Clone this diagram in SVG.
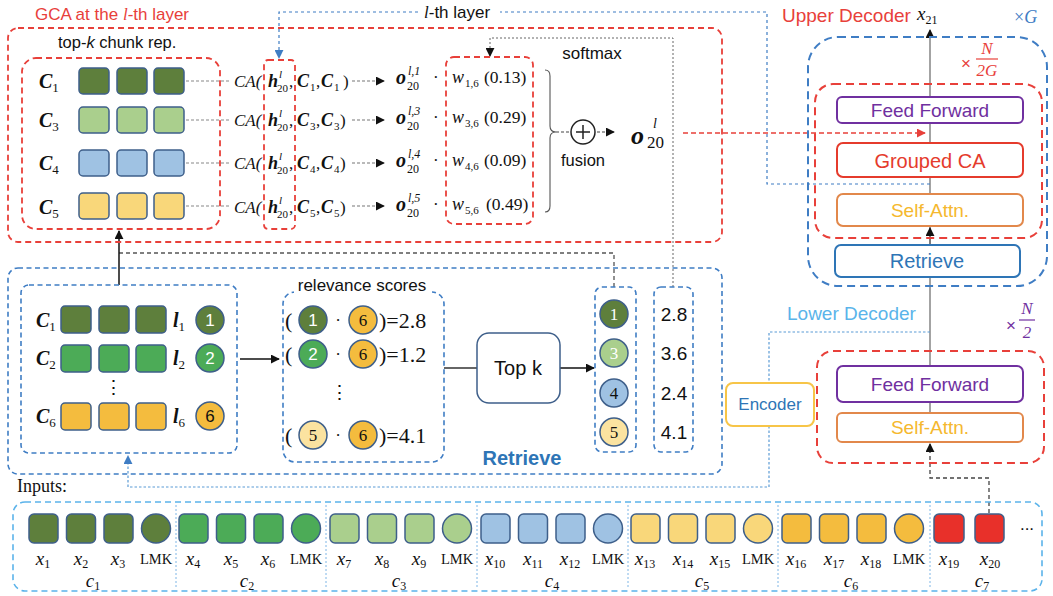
<svg xmlns="http://www.w3.org/2000/svg" width="1053" height="596" viewBox="0 0 1053 596">
<defs>
<style>
.rd{fill:none;stroke:#E8403A;stroke-width:1.8;stroke-dasharray:6 4}
.rdb{fill:none;stroke:#E8403A;stroke-width:2;stroke-dasharray:8 5}
.bd{fill:none;stroke:#3F7DC4;stroke-width:1.6;stroke-dasharray:5 3.5}
.bdb{fill:none;stroke:#3F7DC4;stroke-width:2;stroke-dasharray:8 5}
.lbd{fill:none;stroke:#5BB3EA;stroke-width:1.6;stroke-dasharray:6 4}
.sq{stroke:#3E5F8A;stroke-width:1.5}
.g1{fill:#5E7F3C}.g2{fill:#4CAB57}.g3{fill:#AACF8D}.b4{fill:#9FC2E3}.y5{fill:#F9D77A}.y6{fill:#F4BC3E}.r7{fill:#E8302A}.y5l{fill:#FBE3A0}
.sans{font-family:"Liberation Sans",Arial,sans-serif}
.ser{font-family:"Liberation Serif","Times New Roman",serif}
.it{font-style:italic}
.bf{font-weight:bold}
.m{font-family:"Liberation Serif","Times New Roman",serif;font-size:17px;fill:#111}
.mi{font-family:"Liberation Serif","Times New Roman",serif;font-size:17px;font-style:italic;fill:#111}
.mb{font-family:"Liberation Serif","Times New Roman",serif;font-size:18px;font-style:italic;font-weight:bold;fill:#111}
.s11{font-family:"Liberation Serif","Times New Roman",serif;font-size:11px;fill:#111}
.s11i{font-family:"Liberation Serif","Times New Roman",serif;font-size:11px;font-style:italic;fill:#111}
.gd{fill:none;stroke:#888;stroke-width:1.1;stroke-dasharray:3 2}
.da{fill:none;stroke:#777;stroke-width:1.1;stroke-dasharray:3 2}
.box{fill:#fff;stroke-width:2}
.big{font-size:20px}
.sub{font-style:normal;font-weight:normal;font-size:13px}
.xs{font-style:normal;font-size:12px}
</style>
<marker id="ak" viewBox="0 0 10 10" refX="9" refY="5" markerWidth="9" markerHeight="9" orient="auto" markerUnits="userSpaceOnUse"><path d="M0,0 L10,5 L0,10 z" fill="#111"/></marker>
<marker id="ab" viewBox="0 0 10 10" refX="9" refY="5" markerWidth="9" markerHeight="9" orient="auto" markerUnits="userSpaceOnUse"><path d="M0,0 L10,5 L0,10 z" fill="#3F7DC4"/></marker>
<marker id="ar" viewBox="0 0 10 10" refX="9" refY="5" markerWidth="9" markerHeight="9" orient="auto" markerUnits="userSpaceOnUse"><path d="M0,0 L10,5 L0,10 z" fill="#E8403A"/></marker>
</defs>
<rect width="1053" height="596" fill="#fff"/>

<g id="connectors">
<path d="M930,366 V30" stroke="#666" stroke-width="1.2" fill="none" marker-end="url(#ak)"/>
<path d="M930,245 V228" stroke="#666" stroke-width="1.2" fill="none" marker-end="url(#ak)"/>
<path d="M930,413 V402" stroke="#666" stroke-width="1.2" fill="none"/>
<path d="M989,513 V478 H930 V444" stroke="#444" stroke-width="1.3" stroke-dasharray="4 3" fill="none" marker-end="url(#ak)"/>
<path d="M930,184 H767 V12 H500" stroke="#3F7DC4" stroke-width="1.2" stroke-dasharray="3 3" fill="none"/>
<path d="M418,12 H279 V58" stroke="#3F7DC4" stroke-width="1.2" stroke-dasharray="3 3" fill="none" marker-end="url(#ab)"/>
<path d="M673,287 V38 H490 V56" stroke="#666" stroke-width="1" stroke-dasharray="2 2" fill="none" marker-end="url(#ak)"/>
<path d="M614,287 V253 H119" stroke="#555" stroke-width="1.3" stroke-dasharray="4 3" fill="none"/>
<path d="M119,285 V231" stroke="#111" stroke-width="1.5" fill="none" marker-end="url(#ak)"/>
<path class="gd" d="M186,81 H229 M186,120 H229 M186,163 H229 M186,206 H229"/>
<path class="da" d="M352,81 H384" marker-end="url(#ak)"/>
<path class="da" d="M352,120 H384" marker-end="url(#ak)"/>
<path class="da" d="M352,163 H384" marker-end="url(#ak)"/>
<path class="da" d="M352,206 H384" marker-end="url(#ak)"/>
<path d="M545,70 Q550,70 550,76 V126 Q550,132 556,132 Q550,132 550,138 V206 Q550,212 545,212" stroke="#555" stroke-width="1.1" fill="none"/>
<path d="M556,132 H570" stroke="#444" stroke-width="1.2" stroke-dasharray="3 2" fill="none"/>
<path d="M597,132 H614" stroke="#444" stroke-width="1.2" stroke-dasharray="3 2" fill="none" marker-end="url(#ak)"/>
<path d="M683,133 H925" stroke="#E8403A" stroke-width="1.4" stroke-dasharray="5 3" fill="none" marker-end="url(#ar)"/>
<path d="M240,359 H279" stroke="#111" stroke-width="1.3" fill="none" marker-end="url(#ak)"/>
<path d="M444,368 H477" stroke="#333" stroke-width="1.3" fill="none"/>
<path d="M560,368 H594" stroke="#111" stroke-width="1.3" fill="none" marker-end="url(#ak)"/>
<path d="M930,332 H769 V383" stroke="#5B9BD5" stroke-width="1.2" stroke-dasharray="2.5 2" fill="none"/>
<path d="M769,426 V487 H128 V456" stroke="#5B9BD5" stroke-width="1.2" stroke-dasharray="2.5 2" fill="none" marker-end="url(#ab)"/>
</g>

<g id="gca">
<text x="35" y="20" class="sans" font-size="17" fill="#E8403A">GCA at the <tspan class="ser it">l</tspan>-th layer</text>
<rect class="rd" x="8" y="28" width="714" height="214" rx="10"/>
<text x="424" y="18" class="sans" font-size="17" fill="#111"><tspan class="ser it">l</tspan>-th layer</text>
</g>

<g id="topk-chunks">
<text x="58" y="48" class="sans" font-size="16.5" fill="#111">top-<tspan font-style="italic">k</tspan> chunk rep.</text>
<rect class="rd" x="22" y="58" width="198" height="171" rx="14"/>
<text x="39" y="88" class="mb big">C<tspan class="sub" dy="4">1</tspan></text>
<text x="39" y="127" class="mb big">C<tspan class="sub" dy="4">3</tspan></text>
<text x="39" y="170" class="mb big">C<tspan class="sub" dy="4">4</tspan></text>
<text x="39" y="214" class="mb big">C<tspan class="sub" dy="4">5</tspan></text>
<rect class="sq g1" x="79" y="68" width="30" height="26" rx="4"/><rect class="sq g1" x="117" y="68" width="30" height="26" rx="4"/><rect class="sq g1" x="154" y="68" width="30" height="26" rx="4"/>
<rect class="sq g3" x="79" y="107" width="30" height="26" rx="4"/><rect class="sq g3" x="117" y="107" width="30" height="26" rx="4"/><rect class="sq g3" x="154" y="107" width="30" height="26" rx="4"/>
<rect class="sq b4" x="79" y="150" width="30" height="26" rx="4"/><rect class="sq b4" x="117" y="150" width="30" height="26" rx="4"/><rect class="sq b4" x="154" y="150" width="30" height="26" rx="4"/>
<rect class="sq y5" x="79" y="193" width="30" height="26" rx="4"/><rect class="sq y5" x="117" y="193" width="30" height="26" rx="4"/><rect class="sq y5" x="154" y="193" width="30" height="26" rx="4"/>
</g>

<g id="ca-rows">
<rect class="rd" x="264" y="60" width="31" height="169" rx="4"/>
<g>
<text x="234" y="87" class="mi">CA(</text><text x="268" y="87" class="mb">h</text><text x="279" y="78" class="s11i">l</text><text x="277" y="92" class="s11">20</text><text x="289" y="87" class="m">,</text>
<text x="297" y="87" class="mb">C</text><text x="310" y="91" class="s11">1</text><text x="316" y="87" class="m">,</text><text x="321" y="87" class="mb">C</text><text x="334" y="91" class="s11">1</text><text x="343" y="87" class="m">)</text>
</g>
<g>
<text x="234" y="126" class="mi">CA(</text><text x="268" y="126" class="mb">h</text><text x="279" y="117" class="s11i">l</text><text x="277" y="131" class="s11">20</text><text x="289" y="126" class="m">,</text>
<text x="297" y="126" class="mb">C</text><text x="310" y="130" class="s11">3</text><text x="316" y="126" class="m">,</text><text x="321" y="126" class="mb">C</text><text x="334" y="130" class="s11">3</text><text x="340" y="126" class="m">)</text>
</g>
<g>
<text x="234" y="169" class="mi">CA(</text><text x="268" y="169" class="mb">h</text><text x="279" y="160" class="s11i">l</text><text x="277" y="174" class="s11">20</text><text x="289" y="169" class="m">,</text>
<text x="297" y="169" class="mb">C</text><text x="310" y="173" class="s11">4</text><text x="316" y="169" class="m">,</text><text x="321" y="169" class="mb">C</text><text x="334" y="173" class="s11">4</text><text x="340" y="169" class="m">)</text>
</g>
<g>
<text x="234" y="213" class="mi">CA(</text><text x="268" y="213" class="mb">h</text><text x="279" y="204" class="s11i">l</text><text x="277" y="218" class="s11">20</text><text x="289" y="213" class="m">,</text>
<text x="297" y="213" class="mb">C</text><text x="310" y="217" class="s11">5</text><text x="316" y="213" class="m">,</text><text x="321" y="213" class="mb">C</text><text x="334" y="217" class="s11">5</text><text x="340" y="213" class="m">)</text>
</g>
</g>

<g id="outputs">
<text x="396" y="84" class="mb big">o</text><text x="408" y="75" class="s11i" style="font-size:12px">l,1</text><text x="407" y="90" class="s11" style="font-size:12px">20</text><text x="433" y="83" class="m">·</text>
<text x="396" y="124" class="mb big">o</text><text x="408" y="115" class="s11i" style="font-size:12px">l,3</text><text x="407" y="130" class="s11" style="font-size:12px">20</text><text x="433" y="123" class="m">·</text>
<text x="396" y="167" class="mb big">o</text><text x="408" y="158" class="s11i" style="font-size:12px">l,4</text><text x="407" y="173" class="s11" style="font-size:12px">20</text><text x="433" y="166" class="m">·</text>
<text x="396" y="211" class="mb big">o</text><text x="408" y="202" class="s11i" style="font-size:12px">l,5</text><text x="407" y="217" class="s11" style="font-size:12px">20</text><text x="433" y="210" class="m">·</text>
</g>

<g id="weights">
<rect class="rd" x="446" y="57" width="87" height="167" rx="8"/>
<text x="452" y="83" class="mi" style="font-size:18px">w</text><text x="465" y="87" class="s11">1,6</text><text x="484" y="83" class="m" style="font-size:17.5px">(0.13)</text>
<text x="452" y="123" class="mi" style="font-size:18px">w</text><text x="465" y="127" class="s11">3,6</text><text x="484" y="123" class="m" style="font-size:17.5px">(0.29)</text>
<text x="452" y="166" class="mi" style="font-size:18px">w</text><text x="465" y="170" class="s11">4,6</text><text x="484" y="166" class="m" style="font-size:17.5px">(0.09)</text>
<text x="452" y="210" class="mi" style="font-size:18px">w</text><text x="465" y="214" class="s11">5,6</text><text x="486" y="210" class="m" style="font-size:17.5px">(0.49)</text>
<text x="592" y="59" class="sans" font-size="17" fill="#111" text-anchor="middle">softmax</text>
</g>

<g id="fusion">
<circle cx="583" cy="132" r="12" fill="#fff" stroke="#222" stroke-width="1.5"/>
<path d="M576,132 H590 M583,125 V139" stroke="#222" stroke-width="1.5"/>
<text x="583" y="166" class="sans" font-size="16.5" fill="#111" text-anchor="middle">fusion</text>
<text x="631" y="144" class="mb" style="font-size:26px">o</text><text x="653" y="128" class="s11i" style="font-size:14px">l</text><text x="647" y="148" class="m" style="font-size:17px">20</text>
</g>

<g id="retrieve">
<rect class="bd" x="8" y="268" width="714" height="206" rx="10"/>
<text x="522" y="465" class="sans bf" font-size="20" fill="#2E75B6" text-anchor="middle">Retrieve</text>
</g>

<g id="chunks">
<rect class="bd" x="21" y="285" width="216" height="168" rx="8"/>
<text x="36" y="327" class="mb big">C<tspan class="sub" dy="4">1</tspan></text>
<text x="36" y="365" class="mb big">C<tspan class="sub" dy="4">2</tspan></text>
<text x="36" y="423" class="mb big">C<tspan class="sub" dy="4">6</tspan></text>
<rect class="sq g1" x="61" y="306" width="30" height="27" rx="4"/><rect class="sq g1" x="99" y="306" width="30" height="27" rx="4"/><rect class="sq g1" x="136" y="306" width="30" height="27" rx="4"/>
<rect class="sq g2" x="61" y="345" width="30" height="27" rx="4"/><rect class="sq g2" x="99" y="345" width="30" height="27" rx="4"/><rect class="sq g2" x="136" y="345" width="30" height="27" rx="4"/>
<rect class="sq y6" x="61" y="403" width="30" height="27" rx="4"/><rect class="sq y6" x="99" y="403" width="30" height="27" rx="4"/><rect class="sq y6" x="136" y="403" width="30" height="27" rx="4"/>
<text x="113" y="394" class="m" style="font-size:19px" text-anchor="middle">⋮</text>
<text x="173" y="327" class="mb big">l<tspan class="sub" dy="4">1</tspan></text>
<text x="173" y="365" class="mb big">l<tspan class="sub" dy="4">2</tspan></text>
<text x="173" y="423" class="mb big">l<tspan class="sub" dy="4">6</tspan></text>
<circle class="sq g1" cx="210" cy="320" r="14"/><text x="210" y="326" class="sans" font-size="17" fill="#fff" text-anchor="middle">1</text>
<circle class="sq g2" cx="210" cy="358" r="14"/><text x="210" y="364" class="sans" font-size="17" fill="#fff" text-anchor="middle">2</text>
<circle class="sq y6" cx="210" cy="416" r="14"/><text x="210" y="422" class="sans" font-size="17" fill="#111" text-anchor="middle">6</text>
</g>

<g id="relevance">
<rect class="bd" x="283" y="292" width="161" height="170" rx="12"/>
<rect x="294" y="275" width="138" height="19" fill="#fff"/>
<text x="362" y="291" class="sans" font-size="17" fill="#111" text-anchor="middle">relevance scores</text>
<text x="285" y="328" class="m" style="font-size:22px">(</text><circle class="sq g1" cx="313" cy="320" r="14"/><text x="313" y="326" class="sans" font-size="17" fill="#fff" text-anchor="middle">1</text><text x="338" y="326" class="m" text-anchor="middle">·</text><circle class="sq y6" cx="363" cy="320" r="14"/><text x="363" y="326" class="ser" font-size="17" fill="#111" text-anchor="middle">6</text><text x="379" y="328" class="m" style="font-size:22px">)=2.8</text>
<text x="285" y="362" class="m" style="font-size:22px">(</text><circle class="sq g2" cx="313" cy="354" r="14"/><text x="313" y="360" class="sans" font-size="17" fill="#fff" text-anchor="middle">2</text><text x="338" y="360" class="m" text-anchor="middle">·</text><circle class="sq y6" cx="363" cy="354" r="14"/><text x="363" y="360" class="ser" font-size="17" fill="#111" text-anchor="middle">6</text><text x="379" y="362" class="m" style="font-size:22px">)=1.2</text>
<text x="339" y="399" class="m" style="font-size:19px" text-anchor="middle">⋮</text>
<text x="285" y="443" class="m" style="font-size:22px">(</text><circle class="sq y5l" cx="313" cy="435" r="14"/><text x="313" y="441" class="ser" font-size="17" fill="#111" text-anchor="middle">5</text><text x="338" y="441" class="m" text-anchor="middle">·</text><circle class="sq y6" cx="363" cy="435" r="14"/><text x="363" y="441" class="ser" font-size="17" fill="#111" text-anchor="middle">6</text><text x="379" y="443" class="m" style="font-size:22px">)=4.1</text>
</g>

<g id="topk">
<rect x="477" y="333" width="83" height="70" rx="12" fill="#fff" stroke="#3E5F8A" stroke-width="1.5"/>
<text x="518" y="375" class="sans" font-size="20" fill="#111" text-anchor="middle">Top k</text>
</g>

<g id="selected">
<rect class="bd" x="595" y="287" width="41" height="165" rx="7"/>
<circle class="sq g1" cx="614" cy="314" r="14"/><text x="614" y="320" class="ser" font-size="17" fill="#fff" text-anchor="middle">1</text>
<circle class="sq g3" cx="614" cy="353" r="14"/><text x="614" y="359" class="ser" font-size="17" fill="#fff" text-anchor="middle">3</text>
<circle class="sq b4" cx="614" cy="393" r="14"/><text x="614" y="399" class="ser" font-size="17" fill="#111" text-anchor="middle">4</text>
<circle class="sq y5l" cx="614" cy="432" r="14"/><text x="614" y="438" class="ser" font-size="17" fill="#111" text-anchor="middle">5</text>
</g>

<g id="scores">
<rect class="bd" x="654" y="287" width="39" height="165" rx="7"/>
<text x="674" y="321" class="sans" font-size="19" fill="#111" text-anchor="middle">2.8</text>
<text x="674" y="360" class="sans" font-size="19" fill="#111" text-anchor="middle">3.6</text>
<text x="674" y="400" class="sans" font-size="19" fill="#111" text-anchor="middle">2.4</text>
<text x="674" y="439" class="sans" font-size="19" fill="#111" text-anchor="middle">4.1</text>
</g>

<g id="upper-decoder">
<text x="782" y="22" class="sans" font-size="19" fill="#E8403A">Upper Decoder</text>
<text x="917" y="20" class="mi" style="font-size:19px">x<tspan font-size="12" font-style="normal" dy="4">21</tspan></text>
<text x="1014" y="23" class="ser" font-size="18" fill="#3F7DC4">×<tspan font-style="italic">G</tspan></text>
<rect class="bdb" x="808" y="37" width="239" height="249" rx="30"/>
<text x="961" y="69" class="sans" font-size="17" fill="#E8403A">×</text>
<text x="987" y="54" class="ser it" font-size="17" fill="#E8403A" text-anchor="middle">N</text>
<line x1="976" y1="59" x2="998" y2="59" stroke="#E8403A" stroke-width="1.2"/>
<text x="987" y="76" class="ser it" font-size="17" fill="#E8403A" text-anchor="middle">2G</text>
<rect class="rdb" x="815" y="84" width="227" height="154" rx="18"/>
<rect class="box" x="837" y="97" width="186" height="26" rx="5" stroke="#7030A0"/>
<text x="930" y="117" class="sans" font-size="19" fill="#7030A0" text-anchor="middle">Feed Forward</text>
<rect class="box" x="837" y="143" width="186" height="34" rx="6" stroke="#E53B2C"/>
<text x="930" y="168" class="sans" font-size="20" fill="#E53B2C" text-anchor="middle">Grouped CA</text>
<rect class="box" x="837" y="194" width="186" height="32" rx="6" stroke="#E2884B"/>
<text x="930" y="217" class="sans" font-size="19" fill="#F5B82E" text-anchor="middle">Self-Attn.</text>
<rect class="box" x="835" y="245" width="185" height="32" rx="6" stroke="#2E75B6"/>
<text x="927" y="268" class="sans" font-size="20" fill="#2E75B6" text-anchor="middle">Retrieve</text>
</g>

<g id="lower-decoder">
<text x="787" y="320" class="sans" font-size="19" fill="#5AB4EA">Lower Decoder</text>
<text x="1006" y="331" class="sans" font-size="17" fill="#7030A0">×</text>
<text x="1027" y="314" class="ser it" font-size="17" fill="#7030A0" text-anchor="middle">N</text>
<line x1="1019" y1="320" x2="1035" y2="320" stroke="#7030A0" stroke-width="1.2"/>
<text x="1027" y="338" class="ser it" font-size="17" fill="#7030A0" text-anchor="middle">2</text>
<rect class="rdb" x="817" y="351" width="227" height="112" rx="16"/>
<rect class="box" x="837" y="366" width="186" height="36" rx="6" stroke="#7030A0"/>
<text x="930" y="391" class="sans" font-size="19" fill="#7030A0" text-anchor="middle">Feed Forward</text>
<rect class="box" x="837" y="413" width="186" height="29" rx="5" stroke="#E2884B"/>
<text x="930" y="434" class="sans" font-size="19" fill="#F5B82E" text-anchor="middle">Self-Attn.</text>
</g>

<g id="encoder">
<rect class="box" x="726" y="383" width="88" height="43" rx="7" stroke="#F7C548"/>
<text x="770" y="410" class="sans" font-size="17" fill="#2E75B6" text-anchor="middle">Encoder</text>
</g>

<g id="inputs">
<text x="17" y="492" class="ser" font-size="18" fill="#111">Inputs:</text>
<rect class="lbd" x="13" y="502" width="1029" height="89" rx="12"/>
<path d="M176,505 V588 M326,505 V588 M477,505 V588 M628,505 V588 M778,505 V588 M930,505 V588" stroke="#7FB6E6" stroke-width="1" stroke-dasharray="2 2"/>
<g class="sq">
<rect class="g1" x="29" y="514" width="29" height="29" rx="5"/><rect class="g1" x="66.5" y="514" width="29" height="29" rx="5"/><rect class="g1" x="104" y="514" width="29" height="29" rx="5"/><circle class="g1" cx="156" cy="528.5" r="14.5"/>
<rect class="g2" x="179" y="514" width="29" height="29" rx="5"/><rect class="g2" x="216.5" y="514" width="29" height="29" rx="5"/><rect class="g2" x="254" y="514" width="29" height="29" rx="5"/><circle class="g2" cx="306" cy="528.5" r="14.5"/>
<rect class="g3" x="330" y="514" width="29" height="29" rx="5"/><rect class="g3" x="367.5" y="514" width="29" height="29" rx="5"/><rect class="g3" x="405" y="514" width="29" height="29" rx="5"/><circle class="g3" cx="457" cy="528.5" r="14.5"/>
<rect class="b4" x="481" y="514" width="29" height="29" rx="5"/><rect class="b4" x="518.5" y="514" width="29" height="29" rx="5"/><rect class="b4" x="556" y="514" width="29" height="29" rx="5"/><circle class="b4" cx="608" cy="528.5" r="14.5"/>
<rect class="y5" x="631" y="514" width="29" height="29" rx="5"/><rect class="y5" x="668.5" y="514" width="29" height="29" rx="5"/><rect class="y5" x="706" y="514" width="29" height="29" rx="5"/><circle class="y5" cx="758" cy="528.5" r="14.5"/>
<rect class="y6" x="782" y="514" width="29" height="29" rx="5"/><rect class="y6" x="819.5" y="514" width="29" height="29" rx="5"/><rect class="y6" x="857" y="514" width="29" height="29" rx="5"/><circle class="y6" cx="909" cy="528.5" r="14.5"/>
<rect class="r7" x="934" y="514" width="30" height="29" rx="5"/><rect class="r7" x="975" y="514" width="29" height="29" rx="5"/>
</g>
<g class="mi" style="font-size:19px" text-anchor="middle">
<text x="43" y="565">x<tspan class="xs" dy="3">1</tspan></text>
<text x="81" y="565">x<tspan class="xs" dy="3">2</tspan></text>
<text x="118" y="565">x<tspan class="xs" dy="3">3</tspan></text>
<text x="193" y="565">x<tspan class="xs" dy="3">4</tspan></text>
<text x="231" y="565">x<tspan class="xs" dy="3">5</tspan></text>
<text x="268" y="565">x<tspan class="xs" dy="3">6</tspan></text>
<text x="344" y="565">x<tspan class="xs" dy="3">7</tspan></text>
<text x="382" y="565">x<tspan class="xs" dy="3">8</tspan></text>
<text x="419" y="565">x<tspan class="xs" dy="3">9</tspan></text>
<text x="495" y="565">x<tspan class="xs" dy="3">10</tspan></text>
<text x="533" y="565">x<tspan class="xs" dy="3">11</tspan></text>
<text x="570" y="565">x<tspan class="xs" dy="3">12</tspan></text>
<text x="645" y="565">x<tspan class="xs" dy="3">13</tspan></text>
<text x="683" y="565">x<tspan class="xs" dy="3">14</tspan></text>
<text x="720" y="565">x<tspan class="xs" dy="3">15</tspan></text>
<text x="796" y="565">x<tspan class="xs" dy="3">16</tspan></text>
<text x="834" y="565">x<tspan class="xs" dy="3">17</tspan></text>
<text x="871" y="565">x<tspan class="xs" dy="3">18</tspan></text>
<text x="949" y="565">x<tspan class="xs" dy="3">19</tspan></text>
<text x="990" y="565">x<tspan class="xs" dy="3">20</tspan></text>
<text x="93" y="587">c<tspan class="xs" dy="3">1</tspan></text>
<text x="247" y="587">c<tspan class="xs" dy="3">2</tspan></text>
<text x="399" y="587">c<tspan class="xs" dy="3">3</tspan></text>
<text x="552" y="587">c<tspan class="xs" dy="3">4</tspan></text>
<text x="702" y="587">c<tspan class="xs" dy="3">5</tspan></text>
<text x="851" y="587">c<tspan class="xs" dy="3">6</tspan></text>
<text x="982" y="587">c<tspan class="xs" dy="3">7</tspan></text>
</g>
<g class="ser" font-size="14.5" fill="#111" text-anchor="middle">
<text x="156" y="564">LMK</text><text x="306" y="564">LMK</text><text x="457" y="564">LMK</text><text x="608" y="564">LMK</text><text x="758" y="564">LMK</text><text x="909" y="564">LMK</text>
</g>
<text x="1027" y="530" class="sans" font-size="17" fill="#111" text-anchor="middle">...</text>
</g>
</svg>
